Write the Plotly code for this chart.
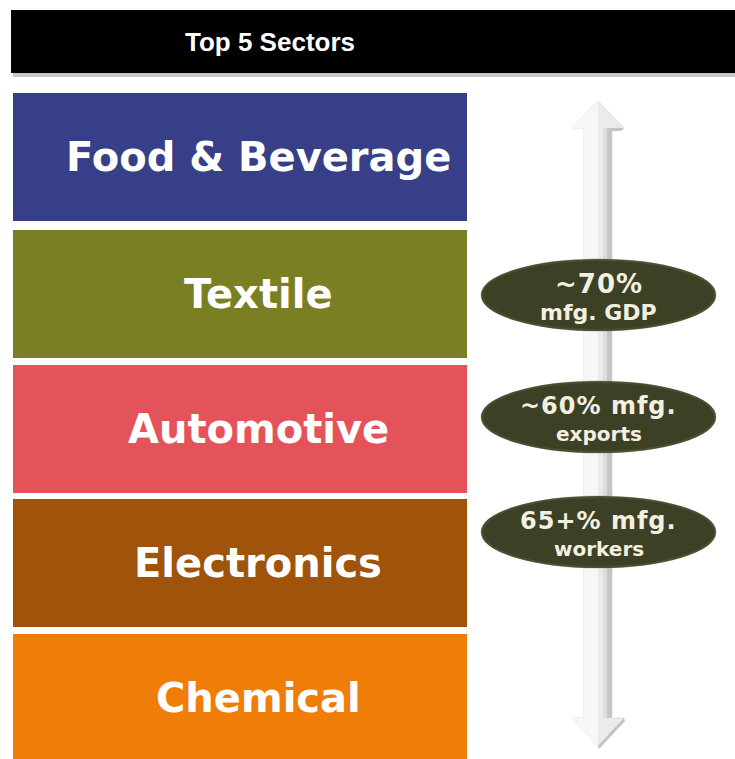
import plotly.graph_objects as go

# Sector stack, top to bottom
sectors = ["Food & Beverage", "Textile", "Automotive", "Electronics", "Chemical"]
sector_colors = ["#363f87", "#7a7f24", "#e4525a", "#a0530b", "#f07d08"]

# Headline shares shown beside the stack
stat_top = ["~70%", "~60% mfg.", "65+% mfg."]
stat_bottom = ["mfg. GDP", "exports", "workers"]

title_text = "Top 5 Sectors"

# text styling for the stat badges (first line, second line)
badge_top_size = [26, 24, 24]
badge_bottom_size = [22, 20, 20]

W, H = 735, 759
HEAD_FONT = "Liberation Sans, Arial, sans-serif"
BODY_FONT = "DejaVu Sans, Verdana, sans-serif"

fig = go.Figure()
shapes = []
annotations = []

# header bar with a soft drop shadow
shapes.append(dict(type="rect", x0=13, x1=W + 5, y0=12, y1=77,
                   fillcolor="rgba(0,0,0,0.22)", line_width=0, layer="above"))
shapes.append(dict(type="rect", x0=11, x1=W + 5, y0=10, y1=73,
                   fillcolor="#000000", line_width=0, layer="above"))
annotations.append(dict(x=270, y=42, text="<b>" + title_text + "</b>",
                        showarrow=False, font=dict(family=HEAD_FONT, size=26, color="white"),
                        xanchor="center", yanchor="middle"))

# sector boxes
tops = [93, 230, 365, 499, 634]
box_h = 128
for i, (name, col) in enumerate(zip(sectors, sector_colors)):
    y0 = tops[i]
    y1 = y0 + box_h if i < len(sectors) - 1 else H + 5
    shapes.append(dict(type="rect", x0=13, x1=467, y0=y0, y1=y1,
                       fillcolor=col, line_width=0, layer="above"))
    yc = y0 + box_h / 2
    annotations.append(dict(
        x=258, y=yc,
        text="<b>" + name + "</b>",
        showarrow=False, font=dict(family=BODY_FONT, size=40, color="white"),
        xanchor="center", yanchor="middle"))

# double-headed vertical arrow
cx = 598
tip_top, head_top_base = 101, 128
tip_bot, head_bot_base = 746, 718
hw, sw = 26, 14
arrow_path = (f"M {cx},{tip_top} L {cx + hw},{head_top_base} L {cx + sw},{head_top_base} "
              f"L {cx + sw},{head_bot_base} L {cx + hw},{head_bot_base} L {cx},{tip_bot} "
              f"L {cx - hw},{head_bot_base} L {cx - sw},{head_bot_base} "
              f"L {cx - sw},{head_top_base} L {cx - hw},{head_top_base} Z")
shapes.append(dict(type="path", path=arrow_path, fillcolor="#ebebeb",
                   line=dict(color="#e0e0e0", width=1), layer="above"))
# lighter left half
left_path = (f"M {cx},{tip_top} L {cx},{tip_bot} L {cx - hw},{head_bot_base} "
             f"L {cx - sw},{head_bot_base} L {cx - sw},{head_top_base} "
             f"L {cx - hw},{head_top_base} Z")
shapes.append(dict(type="path", path=left_path, fillcolor="#f7f7f7",
                   line_width=0, layer="above"))
# shaded right edge of the shaft
shapes.append(dict(type="rect", x0=cx + 9, x1=cx + sw, y0=head_top_base, y1=head_bot_base,
                   fillcolor="#c6c6c6", line_width=0, layer="above"))
shapes.append(dict(type="rect", x0=cx + 5, x1=cx + 9, y0=head_top_base, y1=head_bot_base,
                   fillcolor="#dddddd", line_width=0, layer="above"))
# darker underside of the arrowheads
shapes.append(dict(type="path",
                   path=f"M {cx + sw},{head_top_base} L {cx + hw},{head_top_base} "
                        f"L {cx + hw - 3},{head_top_base + 3} L {cx + sw},{head_top_base + 3} Z",
                   fillcolor="#c2c2c2", line_width=0, layer="above"))
shapes.append(dict(type="path",
                   path=f"M {cx},{tip_bot} L {cx + hw},{head_bot_base} L {cx + hw + 1},{head_bot_base + 3} "
                        f"L {cx + 1},{tip_bot + 3} Z",
                   fillcolor="#c2c2c2", line_width=0, layer="above"))

# stat ellipses
centers = [295, 417, 532]
ex = 598.5
ew, eh = 116.5, 35
for k, (yc, t1, t2) in enumerate(zip(centers, stat_top, stat_bottom)):
    shapes.append(dict(type="circle", x0=ex - ew - 1.5, x1=ex + ew + 1.5,
                       y0=yc - eh - 1.5, y1=yc + eh + 1.5,
                       fillcolor="#8a8c78", line_width=0, layer="above", opacity=0.45))
    shapes.append(dict(type="circle", x0=ex - ew, x1=ex + ew, y0=yc - eh, y1=yc + eh,
                       fillcolor="#3c4125", line=dict(color="#4a4f32", width=2), layer="above"))
    annotations.append(dict(
        x=ex, y=yc - 11,
        text="<span style='letter-spacing:1px'><b>" + t1 + "</b></span>",
        showarrow=False, font=dict(family=BODY_FONT, size=badge_top_size[k], color="#f3f0e2"),
        xanchor="center", yanchor="middle"))
    annotations.append(dict(
        x=ex, y=yc + 17,
        text="<b>" + t2 + "</b>",
        showarrow=False, font=dict(family=BODY_FONT, size=badge_bottom_size[k], color="#f3f0e2"),
        xanchor="center", yanchor="middle"))

fig.update_layout(
    width=W, height=H,
    margin=dict(l=0, r=0, t=0, b=0),
    paper_bgcolor="white", plot_bgcolor="white",
    xaxis=dict(range=[0, W], visible=False, fixedrange=True),
    yaxis=dict(range=[H, 0], visible=False, fixedrange=True),
    shapes=shapes, annotations=annotations,
    showlegend=False,
)

fig.write_html("out.html")
